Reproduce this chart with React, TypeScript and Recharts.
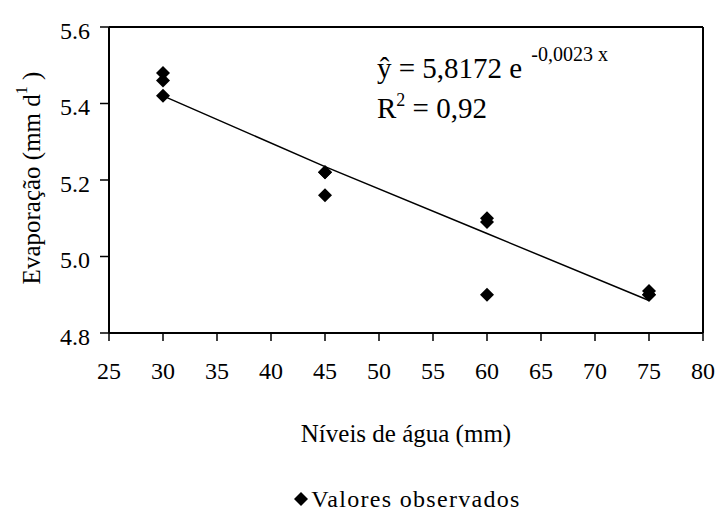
import {
  ScatterChart, Scatter, XAxis, YAxis, ReferenceLine, Legend, Customized,
} from 'recharts';

// observed values (3 reps per water level)
const obsX = [30, 30, 30, 45, 45, 45, 60, 60, 60, 75, 75, 75];
const obsY = [5.48, 5.46, 5.42, 5.22, 5.22, 5.16, 5.10, 5.09, 4.90, 4.91, 4.90, 4.90];

// fitted curve as drawn in the figure
const fitX = [30, 45, 60, 75];
const fitY = [5.42, 5.235, 5.06, 4.885];

const xTicks = [25, 30, 35, 40, 45, 50, 55, 60, 65, 70, 75, 80];
const yTicks = [4.8, 5.0, 5.2, 5.4, 5.6];

const FONT = "'Liberation Serif', 'Times New Roman', 'DejaVu Serif', Times, serif";

const observed = obsX.map((x, i) => ({ x, y: obsY[i] }));
const fitted = fitX.map((x, i) => ({ x, y: fitY[i] }));

function Diamond(props: any) {
  const { cx, cy } = props;
  const r = 7;
  return <polygon points={`${cx},${cy - r} ${cx + r},${cy} ${cx},${cy + r} ${cx - r},${cy}`} fill="#000" />;
}

function LegendBox() {
  return (
    <div style={{ display: 'flex', alignItems: 'center', justifyContent: 'center', paddingLeft: 96, fontFamily: FONT, fontSize: 24, lineHeight: '26px', color: '#000', letterSpacing: 1.3 }}>
      <svg width={16} height={16} style={{ marginRight: 2 }}>
        <polygon points="8,1 15,8 8,15 1,8" fill="#000" />
      </svg>
      <span>Valores observados</span>
    </div>
  );
}

function Annotations() {
  return (
    <g style={{ fontFamily: FONT }} fill="#000">
      <text x={377} y={78} fontSize={29} style={{ fontFamily: FONT }}>
        ŷ = 5,8172 e<tspan dx={9} dy={-17} fontSize={20}>-0,0023 x</tspan>
      </text>
      <text x={377} y={118} fontSize={29} style={{ fontFamily: FONT }}>
        R<tspan dy={-12} fontSize={18}>2</tspan><tspan dy={12}> = 0,92</tspan>
      </text>
      <text x={0} y={0} fontSize={25} textAnchor="middle" dominantBaseline="central" transform="translate(31,178) rotate(-90)" style={{ fontFamily: FONT }}>
        Evaporação (mm d<tspan dy={-10} fontSize={16}>1</tspan><tspan dy={10}> )</tspan>
      </text>
    </g>
  );
}

export default function App() {
  return (
    <div style={{ position: 'absolute', left: 0, top: 0, background: '#fff', fontFamily: FONT }}>
      <style>{'body{margin:0} .recharts-wrapper text{font-family:' + FONT + ';}'}</style>
      <ScatterChart width={718} height={513} margin={{ top: 27, right: 15, left: 0, bottom: 50 }} style={{ fontFamily: FONT }}>
        <XAxis
          type="number" dataKey="x" domain={[25, 80]} ticks={xTicks} interval={0}
          axisLine={{ stroke: '#000', strokeWidth: 2 }} tickLine={{ stroke: '#000', strokeWidth: 1.5 }}
          tickSize={8} tickMargin={21} height={130}
          tick={{ fontSize: 24, fill: '#000' }}
          label={{ value: 'Níveis de água (mm)', position: 'insideTop', offset: 91, fontSize: 25, fill: '#000' }}
        />
        <YAxis
          type="number" dataKey="y" domain={[4.8, 5.6]} ticks={yTicks} interval={0}
          axisLine={{ stroke: '#000', strokeWidth: 2 }} tickLine={{ stroke: '#000', strokeWidth: 1.5 }}
          tickSize={9} tickMargin={10} width={109}
          tickFormatter={(v: number) => v.toFixed(1)}
          tick={{ fontSize: 24, fill: '#000', dy: 3 }}
        />
        <ReferenceLine y={5.6} stroke="#000" strokeWidth={2} ifOverflow="visible" />
        <ReferenceLine x={80} stroke="#000" strokeWidth={2} ifOverflow="visible" />
        <Scatter
          name="fit" data={fitted} line={{ stroke: '#000', strokeWidth: 1.5 }} lineType="joint"
          shape={() => <g />} isAnimationActive={false} legendType="none"
        />
        <Scatter name="Valores observados" data={observed} shape={Diamond} isAnimationActive={false} />
        <Legend
          verticalAlign="middle" align="center" layout="horizontal"
          wrapperStyle={{ top: 486, left: 0, width: 718 }}
          content={() => <LegendBox />}
        />
        <Customized component={Annotations} />
      </ScatterChart>
    </div>
  );
}
